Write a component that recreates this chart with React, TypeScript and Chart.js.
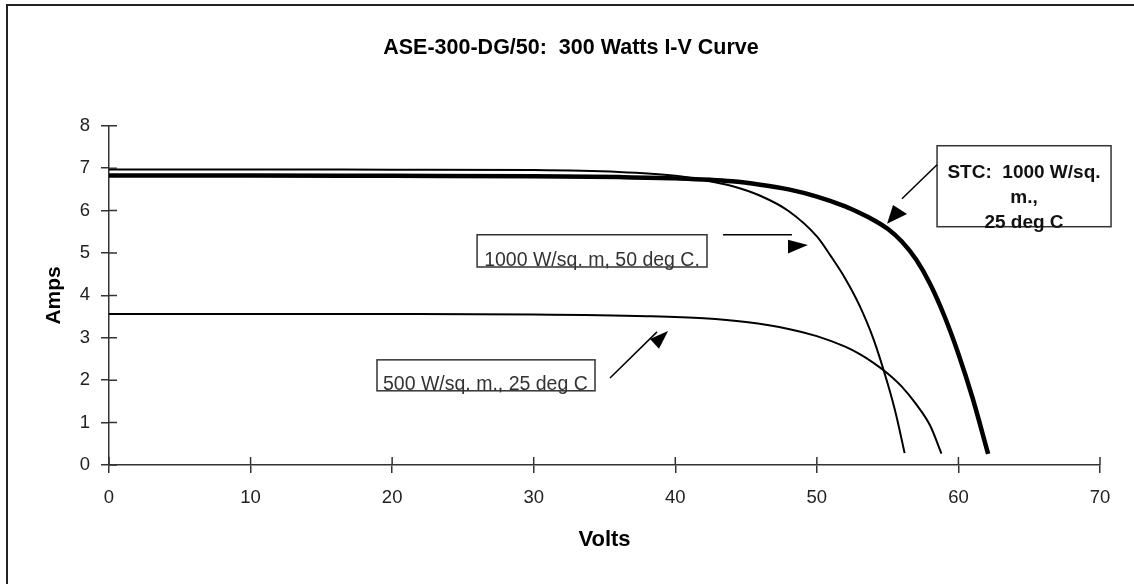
import React, { useEffect, useRef } from "react";
import { Chart, registerables } from "chart.js";

Chart.register(...registerables);

const TITLE = "ASE-300-DG/50:  300 Watts I-V Curve";
const X_TITLE = "Volts";
const Y_TITLE = "Amps";
const X_MIN = 0;
const X_MAX = 70;
const X_STEP = 10;
const Y_MIN = 0;
const Y_MAX = 8;
const Y_STEP = 1;

// STC: 1000 W/sq. m., 25 deg C (thick)
const STC_VOLTS = [0, 10, 20, 30, 36, 40, 44, 46, 48, 50, 52, 53, 54, 55, 56, 57, 58, 59, 60, 61, 62.1];
const STC_AMPS = [6.83, 6.83, 6.82, 6.81, 6.79, 6.76, 6.69, 6.61, 6.5, 6.33, 6.1, 5.95, 5.78, 5.57, 5.27, 4.85, 4.27, 3.52, 2.62, 1.58, 0.26];

// 1000 W/sq. m, 50 deg C
const HOT_VOLTS = [0, 10, 20, 30, 36, 40, 42, 44, 46, 48, 50, 51, 52, 53, 54, 55, 55.6, 56.2];
const HOT_AMPS = [6.97, 6.97, 6.965, 6.955, 6.91, 6.82, 6.72, 6.58, 6.35, 5.99, 5.39, 4.92, 4.4, 3.77, 2.97, 1.92, 1.18, 0.28];

// 500 W/sq. m., 25 deg C
const HALF_VOLTS = [0, 10, 20, 30, 38, 42, 45, 48, 50, 52, 53, 54, 55, 56, 57, 58, 58.8];
const HALF_AMPS = [3.56, 3.56, 3.56, 3.55, 3.51, 3.46, 3.37, 3.21, 3.04, 2.79, 2.62, 2.41, 2.16, 1.85, 1.44, 0.93, 0.27];

const HOT_LABEL = "1000 W/sq. m, 50 deg C.";
const HALF_LABEL = "500 W/sq. m., 25 deg C";
const STC_LABEL_LINES = ["STC:  1000 W/sq.", "m.,", "25 deg C"];

const FONT = "'Liberation Sans', Arial, sans-serif";

type Pt = [number, number];
interface Callout {
  box: [number, number, number, number]; // x1, y1(top), x2, y2(bottom) in data units
  lines: string[];
  textX: number;
  baselines: number[];
  align: CanvasTextAlign;
  bold: boolean;
  size: number;
  color: string;
  line: [Pt, Pt];
  head: [Pt, Pt, Pt];
}

const CALLOUTS: Callout[] = [
  {
    box: [26.0, 5.43, 42.24, 4.67],
    lines: [HOT_LABEL],
    textX: 26.5,
    baselines: [4.7],
    align: "left",
    bold: false,
    size: 19.5,
    color: "#333",
    line: [[43.37, 5.43], [48.24, 5.43]],
    head: [[49.37, 5.19], [47.96, 5.31], [47.96, 4.99]],
  },
  {
    box: [18.93, 2.48, 34.33, 1.75],
    lines: [HALF_LABEL],
    textX: 19.35,
    baselines: [1.76],
    align: "left",
    bold: false,
    size: 19.5,
    color: "#333",
    line: [[35.39, 2.05], [38.71, 3.14]],
    head: [[39.49, 3.16], [38.21, 2.97], [38.85, 2.74]],
  },
  {
    box: [58.49, 7.53, 70.78, 5.62],
    lines: STC_LABEL_LINES,
    textX: 64.63,
    baselines: [6.78, 6.18, 5.58],
    align: "center",
    bold: true,
    size: 19,
    color: "#111",
    line: [[58.49, 7.08], [56.01, 6.28]],
    head: [[54.96, 5.69], [55.38, 6.13], [56.37, 5.92]],
  },
];

function toXY(xs: number[], ys: number[]) {
  return xs.map((x, i) => ({ x, y: ys[i] }));
}

const framePlugin = {
  id: "frame",
  beforeDraw(chart: any) {
    const ctx = chart.ctx;
    ctx.save();
    ctx.fillStyle = "#fff";
    ctx.fillRect(0, 0, chart.width, chart.height);
    ctx.strokeStyle = "#222";
    ctx.lineWidth = 2;
    ctx.strokeRect(7, 5, chart.width + 50, chart.height + 50);
    ctx.restore();
  },
};

const innerTicksPlugin = {
  id: "innerTicks",
  afterDraw(chart: any) {
    const ctx = chart.ctx;
    const xs = chart.scales.x;
    const ys = chart.scales.y;
    ctx.save();
    ctx.strokeStyle = "#333";
    ctx.lineWidth = 1.5;
    ctx.beginPath();
    xs.ticks.forEach((t: any) => {
      const px = xs.getPixelForValue(t.value);
      ctx.moveTo(px, ys.bottom);
      ctx.lineTo(px, ys.bottom - 8);
    });
    ys.ticks.forEach((t: any) => {
      const py = ys.getPixelForValue(t.value);
      ctx.moveTo(xs.left, py);
      ctx.lineTo(xs.left + 8, py);
    });
    ctx.stroke();
    ctx.restore();
  },
};

const calloutPlugin = {
  id: "callouts",
  afterDraw(chart: any) {
    const ctx = chart.ctx;
    const xs = chart.scales.x;
    const ys = chart.scales.y;
    const px = (v: number) => xs.getPixelForValue(v);
    const py = (v: number) => ys.getPixelForValue(v);
    ctx.save();
    CALLOUTS.forEach((c) => {
      const x1 = px(c.box[0]);
      const y1 = py(c.box[1]);
      const x2 = px(c.box[2]);
      const y2 = py(c.box[3]);
      ctx.fillStyle = "#fff";
      ctx.fillRect(x1, y1, x2 - x1, y2 - y1);
      ctx.strokeStyle = "#333";
      ctx.lineWidth = 1.5;
      ctx.strokeRect(x1, y1, x2 - x1, y2 - y1);
      ctx.fillStyle = c.color;
      ctx.font = `${c.bold ? "bold " : ""}${c.size}px ${FONT}`;
      ctx.textAlign = c.align;
      ctx.textBaseline = "alphabetic";
      c.lines.forEach((ln, i) => {
        ctx.fillText(ln, px(c.textX), py(c.baselines[i]));
      });
      ctx.strokeStyle = "#000";
      ctx.lineWidth = 1.5;
      ctx.beginPath();
      ctx.moveTo(px(c.line[0][0]), py(c.line[0][1]));
      ctx.lineTo(px(c.line[1][0]), py(c.line[1][1]));
      ctx.stroke();
      ctx.fillStyle = "#000";
      ctx.beginPath();
      ctx.moveTo(px(c.head[0][0]), py(c.head[0][1]));
      ctx.lineTo(px(c.head[1][0]), py(c.head[1][1]));
      ctx.lineTo(px(c.head[2][0]), py(c.head[2][1]));
      ctx.closePath();
      ctx.fill();
    });
    ctx.restore();
  },
};

export default function App() {
  const ref = useRef<HTMLCanvasElement | null>(null);

  useEffect(() => {
    if (!ref.current) return;
    const lineStyle = {
      pointRadius: 0,
      borderColor: "#000",
      backgroundColor: "#000",
      fill: false,
      cubicInterpolationMode: "monotone" as const,
      borderCapStyle: "butt" as const,
      borderJoinStyle: "round" as const,
    };
    const chart = new Chart(ref.current, {
      type: "line",
      data: {
        datasets: [
          { ...lineStyle, label: "STC", data: toXY(STC_VOLTS, STC_AMPS), borderWidth: 4.5 },
          { ...lineStyle, label: "50C", data: toXY(HOT_VOLTS, HOT_AMPS), borderWidth: 2 },
          { ...lineStyle, label: "500W", data: toXY(HALF_VOLTS, HALF_AMPS), borderWidth: 2 },
        ],
      },
      options: {
        responsive: false,
        animation: false,
        layout: { padding: { left: 42, right: 34, top: 0, bottom: 0 } },
        plugins: {
          legend: { display: false },
          tooltip: { enabled: false },
          title: {
            display: true,
            text: TITLE,
            color: "#000",
            font: { family: FONT, size: 21.5, weight: "bold" },
            padding: { top: 35, bottom: 65 },
          },
        },
        scales: {
          x: {
            type: "linear",
            min: X_MIN,
            max: X_MAX,
            ticks: { stepSize: X_STEP, color: "#222", font: { family: FONT, size: 18.5 }, padding: 14 },
            grid: { drawOnChartArea: false, drawTicks: true, tickLength: 8, color: "#333", lineWidth: 1.5 },
            border: { display: true, color: "#333", width: 1.5 },
            title: {
              display: true,
              text: X_TITLE,
              color: "#000",
              font: { family: FONT, size: 22, weight: "bold" },
              padding: { top: 0, bottom: 31 },
            },
            afterFit: (s: any) => {
              s.height = 119;
            },
          },
          y: {
            type: "linear",
            min: Y_MIN,
            max: Y_MAX,
            ticks: { stepSize: Y_STEP, color: "#222", font: { family: FONT, size: 18.5 }, padding: 11 },
            grid: { drawOnChartArea: false, drawTicks: true, tickLength: 8, color: "#333", lineWidth: 1.5 },
            border: { display: true, color: "#333", width: 1.5 },
            title: {
              display: true,
              text: Y_TITLE,
              color: "#000",
              font: { family: FONT, size: 21, weight: "bold" },
              padding: { top: 0, bottom: 0 },
            },
            afterFit: (s: any) => {
              s.width = 67;
            },
          },
        },
      },
      plugins: [framePlugin, innerTicksPlugin, calloutPlugin],
    });
    return () => chart.destroy();
  }, []);

  return (
    <div style={{ position: "fixed", left: 0, top: 0, width: 1134, height: 584, background: "#fff" }}>
      <canvas ref={ref} width={1134} height={584} style={{ display: "block", width: 1134, height: 584 }} />
    </div>
  );
}
